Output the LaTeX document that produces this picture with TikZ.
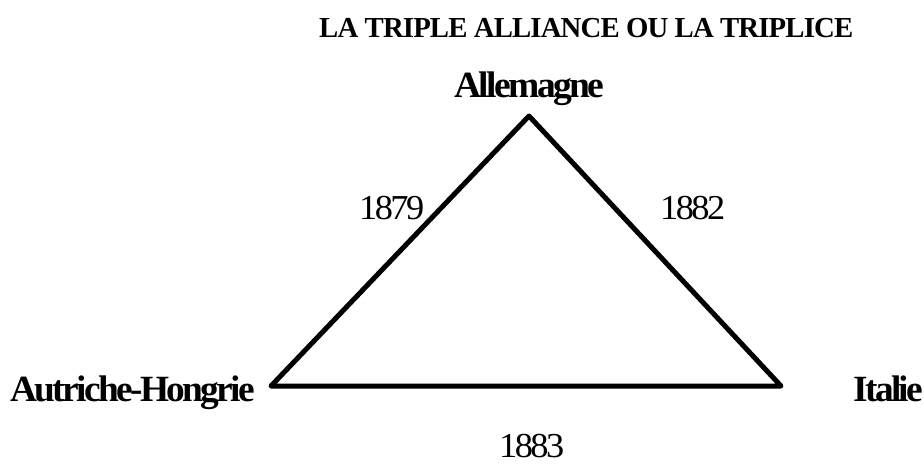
\documentclass[tikz,border=0pt]{standalone}
\usepackage{fontspec}
\setmainfont{Liberation Serif}
\usepackage{graphicx}
% #1 target width, #2 font size, #3 letter spacing, #4 text
\newcommand{\fitbold}[4]{\resizebox{#1pt}{\height}{\fontsize{#2}{#2}\selectfont\bfseries\addfontfeatures{LetterSpace=#3}#4}}
\newcommand{\fitplain}[4]{\resizebox{#1pt}{\height}{\fontsize{#2}{#2}\selectfont\addfontfeatures{LetterSpace=#3}#4}}
\tikzset{
  lbl/.style={inner sep=0pt, anchor=base west},
  tri/.style={line width=5pt, line join=round, black}
}
\begin{document}
\begin{tikzpicture}[x=1pt,y=-1pt]
\useasboundingbox[fill=white] (0,0) rectangle (924,464);
% title
\node[lbl] (title) at (319,37) {\fitbold{534}{29}{-3}{LA TRIPLE ALLIANCE OU LA TRIPLICE}};
% vertices
\coordinate (A) at (529,116);
\coordinate (B) at (271,386);
\coordinate (C) at (781,386);
\draw[tri] (A) -- (B) -- (C) -- cycle;
% country labels
\node[lbl] (de) at (454,97) {\fitbold{150}{37}{-7}{Allemagne}};
\node[lbl] (ah) at (10,401) {\fitbold{245}{37}{-7}{Autriche-Hongrie}};
\node[lbl] (it) at (853,401) {\fitbold{70}{37}{-7}{Italie}};
% years
\node[lbl] (y1) at (359,219) {\fitplain{65}{35}{-7}{1879}};
\node[lbl] (y2) at (660,219) {\fitplain{65}{35}{-7}{1882}};
\node[lbl] (y3) at (499,457) {\fitplain{65}{35}{-7}{1883}};
\end{tikzpicture}
\end{document}
